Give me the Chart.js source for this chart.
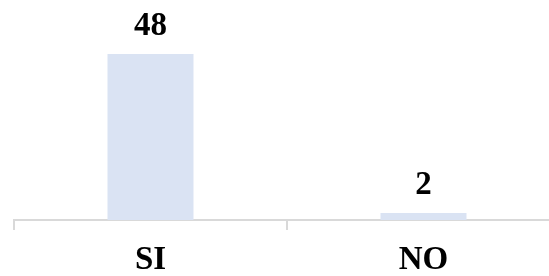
<!DOCTYPE html>
<html>
<head>
<meta charset="utf-8">
<script src="https://cdn.jsdelivr.net/npm/chart.js@4"></script>
<style>
  html, body { margin: 0; padding: 0; background: #fff; overflow: hidden; }
  #wrap { width: 549px; height: 276px; overflow: hidden; }
</style>
</head>
<body>
<div id="wrap"><canvas id="chart" width="560" height="276"></canvas></div>
<script>
var categories = ['SI', 'NO'];
var values = [48, 2];

var labelFont = { family: "'Liberation Serif', 'Times New Roman', serif", size: 33, weight: 'bold' };

// numbers above the bars
var valueLabels = {
    id: 'valueLabels',
    afterDatasetsDraw: function (chart) {
        var ctx = chart.ctx;
        var meta = chart.getDatasetMeta(0);
        ctx.save();
        ctx.font = 'bold 33px ' + labelFont.family;
        ctx.fillStyle = '#000';
        ctx.textAlign = 'center';
        ctx.textBaseline = 'alphabetic';
        meta.data.forEach(function (bar, i) {
            ctx.fillText(String(values[i]), bar.x, bar.y - 19);
        });
        ctx.restore();
    }
};

document.addEventListener('DOMContentLoaded', function () {
    var ctx = document.getElementById('chart').getContext('2d');
    new Chart(ctx, {
        type: 'bar',
        data: {
            labels: categories,
            datasets: [{
                data: values,
                backgroundColor: '#dae3f3',
                borderWidth: 0,
                barPercentage: 0.315,
                categoryPercentage: 1
            }]
        },
        options: {
            responsive: false,
            animation: false,
            layout: { padding: { left: 14, right: 0, top: 54, bottom: 0 } },
            plugins: { legend: { display: false }, tooltip: { enabled: false } },
            scales: {
                y: { display: false, min: 0, max: 48 },
                x: {
                    offset: true,
                    afterFit: function (scale) { scale.height = 56; },
                    border: { display: true, color: '#d9d9d9', width: 2 },
                    grid: {
                        offset: true,
                        drawOnChartArea: false,
                        drawTicks: true,
                        tickLength: 10,
                        color: '#d9d9d9',
                        lineWidth: 2
                    },
                    ticks: { color: '#000', font: labelFont, padding: 11 }
                }
            }
        },
        plugins: [valueLabels]
    });
});
</script>
</body>
</html>
